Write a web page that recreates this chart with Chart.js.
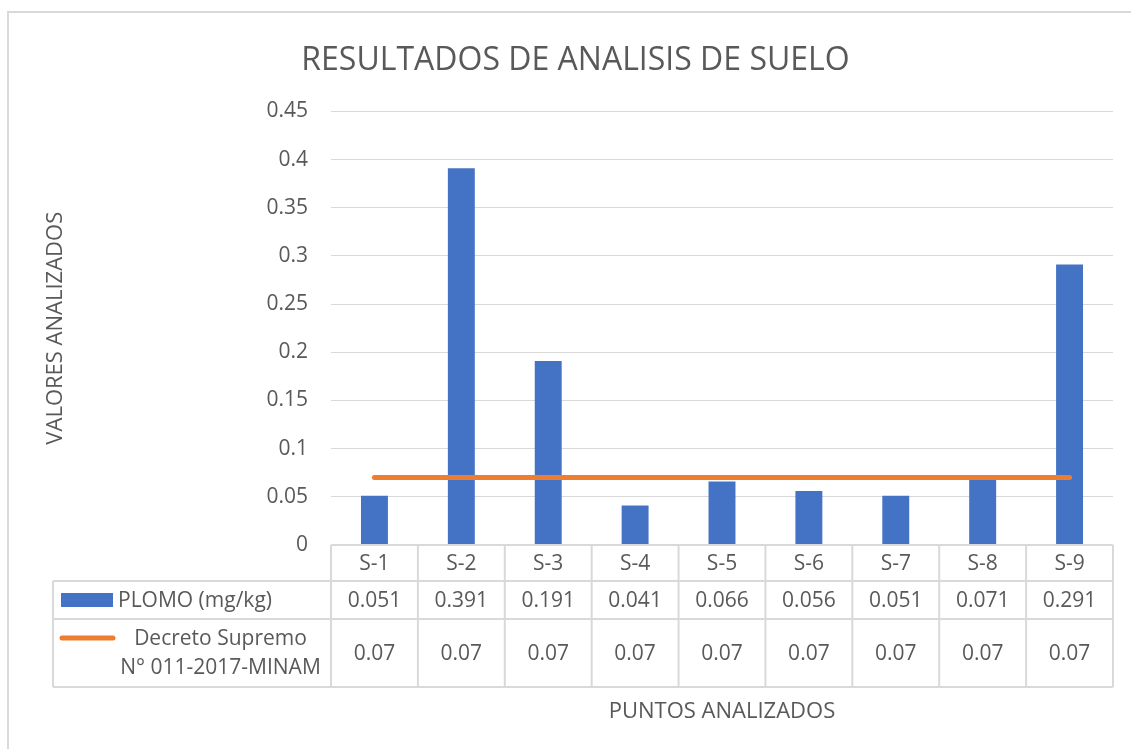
<!DOCTYPE html>
<html>
<head>
<meta charset="utf-8">
<script src="https://cdn.jsdelivr.net/npm/chart.js@4"></script>
<style>
  body { margin: 0; background: #fff; }
  canvas { display: block; }
</style>
</head>
<body>
<canvas id="grafico" width="1131" height="749"></canvas>
<script>
// datos
const categorias = ["S-1", "S-2", "S-3", "S-4", "S-5", "S-6", "S-7", "S-8", "S-9"];
const plomo = [0.051, 0.391, 0.191, 0.041, 0.066, 0.056, 0.051, 0.071, 0.291];
const decreto = [0.07, 0.07, 0.07, 0.07, 0.07, 0.07, 0.07, 0.07, 0.07];
const nombrePlomo = "PLOMO (mg/kg)";
const nombreDecreto = ["Decreto Supremo", "N° 011-2017-MINAM"];
const yMax = 0.45;
const yPaso = 0.05;

const gris = "#595959";
const linea = "#d9d9d9";
const fuente = "'Open Sans', sans-serif";

// tabla de datos debajo del grafico
const tablaPlugin = {
  id: "tabla",
  afterDraw(chart) {
    const ctx = chart.ctx;
    const x = chart.scales.x;
    const area = chart.chartArea;
    const ancho = (area.right - area.left) / categorias.length;
    const filas = [area.bottom, 581, 619, 687];
    const izq = 53;

    ctx.save();
    // marco exterior
    ctx.strokeStyle = linea;
    ctx.lineWidth = 2;
    ctx.beginPath();
    ctx.moveTo(8, 749);
    ctx.lineTo(8, 12);
    ctx.lineTo(1131, 12);
    ctx.stroke();

    // lineas de la tabla
    ctx.beginPath();
    ctx.moveTo(area.left, filas[0]);
    ctx.lineTo(area.right, filas[0]);
    for (let f = 1; f < filas.length; f++) {
      ctx.moveTo(izq, filas[f]);
      ctx.lineTo(area.right, filas[f]);
    }
    ctx.moveTo(izq, filas[1]);
    ctx.lineTo(izq, filas[3]);
    for (let i = 0; i <= categorias.length; i++) {
      const px = area.left + i * ancho;
      ctx.moveTo(px, filas[0]);
      ctx.lineTo(px, filas[3]);
    }
    ctx.stroke();

    // textos
    ctx.fillStyle = gris;
    ctx.font = "21px " + fuente;
    ctx.textAlign = "center";
    ctx.textBaseline = "middle";
    categorias.forEach((c, i) => {
      const cx = x.getPixelForValue(i);
      ctx.fillText(c, cx, (filas[0] + filas[1]) / 2 + 1);
      ctx.fillText(String(plomo[i]), cx, (filas[1] + filas[2]) / 2 + 1);
      ctx.fillText(String(decreto[i]), cx, (filas[2] + filas[3]) / 2 + 1);
    });

    // claves de la leyenda
    ctx.fillStyle = "#4472C4";
    ctx.fillRect(61, 593, 52, 14);
    ctx.strokeStyle = "#ED7D31";
    ctx.lineWidth = 5;
    ctx.lineCap = "round";
    ctx.beginPath();
    ctx.moveTo(62, 638);
    ctx.lineTo(113, 638);
    ctx.stroke();

    ctx.fillStyle = gris;
    ctx.textAlign = "left";
    ctx.fillText(nombrePlomo, 118, 601);
    ctx.textAlign = "center";
    ctx.fillText(nombreDecreto[0], 220.5, 639);
    ctx.fillText(nombreDecreto[1], 220.5, 668);

    // titulo eje x
    ctx.font = "22px " + fuente;
    ctx.fillText("PUNTOS ANALIZADOS", (area.left + area.right) / 2, 712);
    ctx.restore();
  }
};

const ctx = document.getElementById("grafico").getContext("2d");

const grafico = new Chart(ctx, {
  data: {
    labels: categorias,
    datasets: [
      {
        type: "line",
        label: nombreDecreto.join(" "),
        data: decreto,
        borderColor: "#ED7D31",
        borderWidth: 5,
        borderCapStyle: "round",
        pointRadius: 0,
        order: 0
      },
      {
        type: "bar",
        label: nombrePlomo,
        data: plomo,
        backgroundColor: "#4472C4",
        categoryPercentage: 1,
        barPercentage: 0.31,
        order: 1
      }
    ]
  },
  options: {
    responsive: false,
    animation: false,
    layout: { padding: { left: 38, top: 12, right: 18, bottom: 204 } },
    plugins: {
      legend: { display: false },
      tooltip: { enabled: false },
      title: {
        display: true,
        text: "RESULTADOS DE ANALISIS DE SUELO",
        color: gris,
        font: { family: fuente, size: 32, weight: "normal" },
        padding: { top: 30, bottom: 31 }
      }
    },
    scales: {
      x: {
        display: false,
        offset: true
      },
      y: {
        min: 0,
        max: yMax,
        afterFit: s => { s.width = 293; },
        border: { display: false },
        grid: { color: linea, lineWidth: 1, drawTicks: false },
        ticks: {
          stepSize: yPaso,
          padding: 23,
          color: gris,
          font: { family: fuente, size: 21 },
          callback: v => String(+v.toFixed(2))
        },
        title: {
          display: true,
          text: "VALORES ANALIZADOS",
          color: gris,
          font: { family: fuente, size: 22 },
          padding: { top: 5, bottom: 0 }
        }
      }
    }
  },
  plugins: [tablaPlugin]
});
</script>
</body>
</html>
